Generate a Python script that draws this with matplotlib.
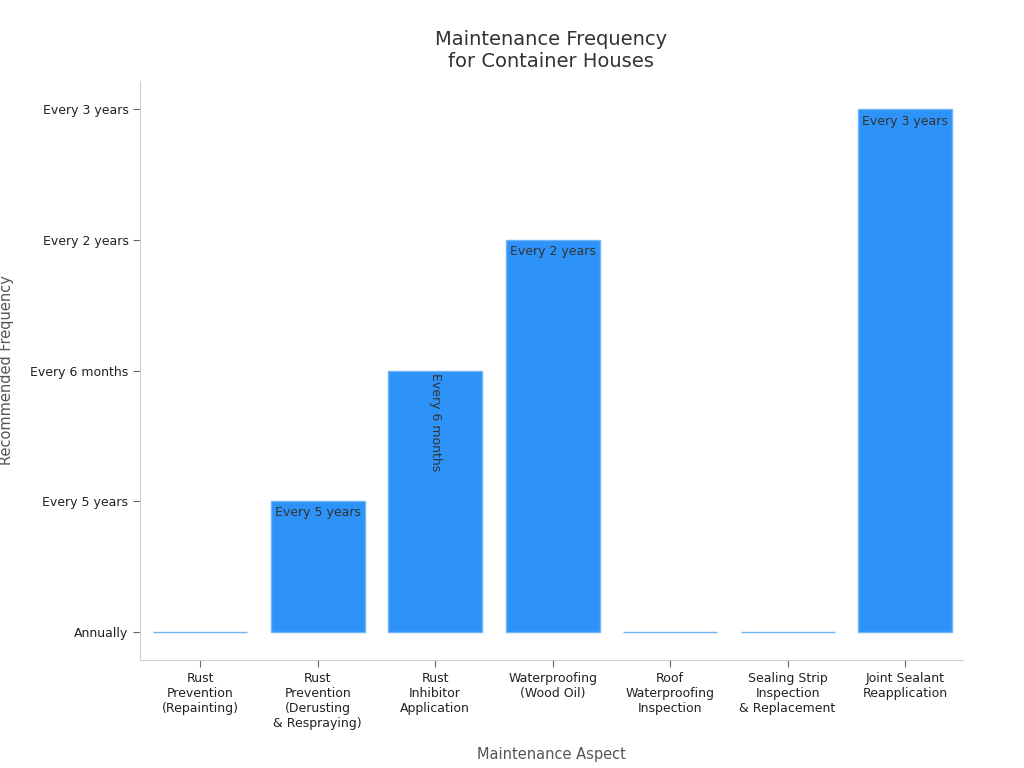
import matplotlib.pyplot as plt

categories = ["Rust\nPrevention\n(Repainting)", "Rust\nPrevention\n(Derusting\n& Respraying)",
              "Rust\nInhibitor\nApplication", "Waterproofing\n(Wood Oil)",
              "Roof\nWaterproofing\nInspection", "Sealing Strip\nInspection\n& Replacement",
              "Joint Sealant\nReapplication"]
levels = ["Annually", "Every 5 years", "Every 6 months", "Every 2 years", "Every 3 years"]
values = [0, 1, 2, 3, 0, 0, 4]

fig, ax = plt.subplots(figsize=(10.24, 7.68), dpi=100)
fig.subplots_adjust(left=0.137, right=0.94, top=0.895, bottom=0.14)

x = range(len(categories))
ax.bar(x, values, width=0.8, color="#2E93F8", edgecolor="#6FB3F8", linewidth=1)

for i, v in enumerate(values):
    if v == 0:
        continue
    if v == 2:
        ax.text(i, v - 0.02, levels[v], rotation=270, ha="center", va="top",
                fontsize=9, color="#333333")
    else:
        ax.text(i, v - 0.04, levels[v], ha="center", va="top",
                fontsize=9, color="#333333")

ax.set_xlim(-0.51, 6.49)
ax.set_ylim(-0.22, 4.22)
ax.set_xticks(list(x))
ax.set_xticklabels(categories, fontsize=9, color="#222222")
ax.set_yticks(range(len(levels)))
ax.set_yticklabels(levels, fontsize=9, color="#222222")
ax.tick_params(colors="#666666", length=5)
for lbl in ax.get_xticklabels() + ax.get_yticklabels():
    lbl.set_color("#222222")

for s in ["top", "right"]:
    ax.spines[s].set_visible(False)
for s in ["left", "bottom"]:
    ax.spines[s].set_color("#d0d0d0")

ax.set_xlabel("Maintenance Aspect", fontsize=10.5, color="#555555", labelpad=12)
ax.set_ylabel("Recommended Frequency", fontsize=10.5, color="#555555", labelpad=12)
ax.set_title("Maintenance Frequency\nfor Container Houses", fontsize=14, color="#333333", pad=10)

plt.savefig("out.png")
